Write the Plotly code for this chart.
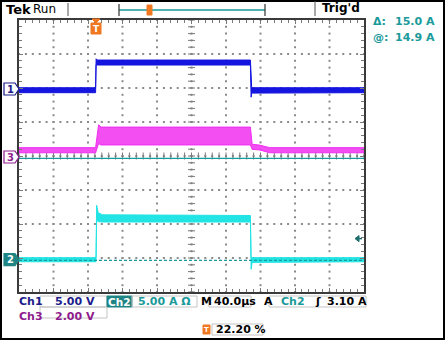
import numpy as np
import plotly.graph_objects as go

# ---------------- data ----------------
# time in µs relative to trigger; 40 µs/div, 10 div, trigger at 22.20 %
time_per_div = 40.0
trig_pct = 22.20
t_left = -trig_pct / 100 * 10 * time_per_div
t_right = t_left + 10 * time_per_div

# Ch1 (V): 5.00 V/div, ground marker position in divisions
ch1_scale, ch1_pos = 5.0, 1.97
ch1_t = [t_left, 0.0, 0.6, 2.0, 179.5, 180.3, 181.0, 183.0, t_right]
ch1_hi = [0.19, 0.19, 4.45, 4.26, 4.26, 0.19, 0.19, 0.19, 0.19]
ch1_lo = [-0.54, -0.54, 3.6, 3.53, 3.53, -1.2, -0.6, -0.54, -0.54]

# Ch3 (V): 2.00 V/div
ch3_scale, ch3_pos = 2.0, -0.03
ch3_t = [t_left, 0.0, 3.5, 6.0, 179.5, 181.5, 190.0, 202.0, t_right]
ch3_hi = [0.55, 0.55, 1.9, 1.76, 1.76, 0.75, 0.7, 0.55, 0.55]
ch3_lo = [0.25, 0.25, 0.8, 0.71, 0.71, 0.45, 0.42, 0.25, 0.25]

# Ch2 (A): 5.00 A/div
ch2_scale, ch2_pos = 5.0, -3.05
ch2_t = [t_left, 0.5, 1.2, 3.0, 8.0, 179.5, 180.3, 181.5, 184.0, t_right]
ch2_hi = [0.3, 0.3, 8.0, 6.9, 6.6, 6.5, 0.3, 0.3, 0.3, 0.3]
ch2_lo = [-0.3, -0.3, 5.8, 5.6, 5.54, 5.54, -1.4, -0.4, -0.3, -0.3]

# cursors (Ch2 units) and trigger level
cursor_at = 14.9
cursor_delta = 15.0
trig_level = 3.10

# readout texts
readout_ch1 = "5.00 V"
readout_ch2 = "5.00 A Ω"
readout_ch3 = "2.00 V"
readout_time = "40.0µs"
readout_trig = "3.10 A"
readout_pos = "22.20 %"

# ---------------- colours ----------------
C_BLUE = "#1515e0"
C_MAG = "#f02cf0"
C_CYAN = "#22e4e4"
C_TEAL = "#1a9a9a"
C_TEALBOX = "#1f8484"
C_NAVY = "#1c1c8c"
C_PURP = "#8e1c8e"
C_ORANGE = "#f07820"
C_GRID = "#8a8a8a"
FONT = "DejaVu Sans"

W, H = 445, 342
gx0, gx1, gy0, gy1 = 19, 364, 20, 292  # graticule in pixels

fig = go.Figure()

# invisible trace to instantiate the screen axis
fig.add_trace(go.Scatter(x=[0], y=[0], mode="markers", marker=dict(opacity=0),
                         xaxis="x", yaxis="y", hoverinfo="skip"))

# graticule dots
gx_minor = np.arange(0, 51) * time_per_div / 5 + t_left
gy_minor = np.arange(0, 41) * 0.2 - 4
dots_x, dots_y = [], []
for k in range(1, 8):
    dots_x += list(gx_minor); dots_y += [k - 4] * len(gx_minor)
for k in range(1, 10):
    xv = t_left + k * time_per_div
    dots_x += [xv] * len(gy_minor); dots_y += list(gy_minor)
fig.add_trace(go.Scatter(x=dots_x, y=dots_y, mode="markers", xaxis="x2", yaxis="y2",
                         marker=dict(symbol="square", size=2, color=C_GRID, line=dict(width=0)),
                         hoverinfo="skip"))
# center cross ticks
t_mid = t_left + 5 * time_per_div
fig.add_trace(go.Scatter(x=list(gx_minor), y=[0] * len(gx_minor), mode="markers", xaxis="x2", yaxis="y2",
                         marker=dict(symbol="line-ns", size=5, line=dict(width=1, color="#7a7a7a")),
                         hoverinfo="skip"))
fig.add_trace(go.Scatter(x=[t_mid] * len(gy_minor), y=list(gy_minor), mode="markers", xaxis="x2", yaxis="y2",
                         marker=dict(symbol="line-ew", size=5, line=dict(width=1, color="#7a7a7a")),
                         hoverinfo="skip"))


def band(t, hi, lo, scale, pos, color, fillcolor):
    xs = list(t) + list(t)[::-1] + [t[0]]
    ys = [v / scale + pos for v in hi] + [v / scale + pos for v in lo][::-1] + [hi[0] / scale + pos]
    fig.add_trace(go.Scatter(x=xs, y=ys, mode="lines", fill="toself", fillcolor=fillcolor,
                             line=dict(color=color, width=1), xaxis="x2", yaxis="y2", hoverinfo="skip"))


band(ch1_t, ch1_hi, ch1_lo, ch1_scale, ch1_pos, C_BLUE, C_BLUE)
band(ch3_t, ch3_hi, ch3_lo, ch3_scale, ch3_pos, C_MAG, "#f24ef2")
band(ch2_t, ch2_hi, ch2_lo, ch2_scale, ch2_pos, C_CYAN, C_CYAN)

# cursors
c1 = cursor_at / ch2_scale + ch2_pos
c2 = (cursor_at - cursor_delta) / ch2_scale + ch2_pos
fig.add_trace(go.Scatter(x=[t_left, t_right], y=[c1, c1], mode="lines", xaxis="x2", yaxis="y2",
                         line=dict(color=C_TEAL, width=1.2), hoverinfo="skip"))
fig.add_trace(go.Scatter(x=[t_left, t_right], y=[c2, c2], mode="lines", xaxis="x2", yaxis="y2",
                         line=dict(color=C_TEAL, width=1.2, dash="3px,2px"), hoverinfo="skip"))

shapes = []
ann = []


def text(x, y, s, color="black", size=11, bold=True, xanchor="left", yref="y", family=FONT):
    ann.append(dict(x=x, y=y, xref="x", yref=yref, text=("<b>%s</b>" % s) if bold else s,
                    showarrow=False, xanchor=xanchor, yanchor="middle",
                    font=dict(family=family, size=size, color=color)))


def rect(x0, y0, x1, y1, line="#c4c4c4", fill=None, lw=1):
    shapes.append(dict(type="rect", xref="x", yref="y", x0=x0, y0=y0, x1=x1, y1=y1,
                       line=dict(color=line, width=lw), fillcolor=fill, layer="above"))


def line(x0, y0, x1, y1, color, lw=1):
    shapes.append(dict(type="line", xref="x", yref="y", x0=x0, y0=y0, x1=x1, y1=y1,
                       line=dict(color=color, width=lw), layer="above"))


# outer frame
rect(1, 1, 444, 339, line="black", lw=2)

# top bar
text(4, 9, "Tek", size=13)
text(31, 9, "Run", size=12, bold=False)
line(68, 3, 68, 16, "#555555")
line(315, 1, 315, 16, "#555555")
text(320, 8, "Trig'd", size=12)
line(119, 10, 265, 10, C_TEAL, 1.5)
line(119, 4, 119, 16, "#333333", 1.2)
line(265, 4, 265, 16, "#333333", 1.2)
rect(147, 5, 152, 15, line=C_ORANGE, fill=C_ORANGE)

# trigger marker at top of graticule
shapes.append(dict(type="path", xref="x", yref="y", path="M92,19 L100,19 L96,23 Z",
                   fillcolor=C_ORANGE, line=dict(color=C_ORANGE, width=1), layer="above"))
rect(91, 23, 101, 34, line=C_ORANGE, fill=C_ORANGE)
text(96, 29, "T", color="white", size=9, xanchor="center")

# cursor readouts
text(371, 21, "Δ:", color=C_TEAL, size=11)
text(437, 21, "15.0 A", color=C_TEAL, size=11, xanchor="right")
text(371, 37, "@:", color=C_TEAL, size=11)
text(437, 37, "14.9 A", color=C_TEAL, size=11, xanchor="right")


# channel ground markers (vertical position from channel offsets)
def marker(pos, label, border, fill, tcolor):
    h = 6 / 34.0
    shapes.append(dict(type="path", xref="x", yref="y2",
                       path="M4,%f L15,%f L19,%f L15,%f L4,%f Z" % (pos + h, pos + h, pos, pos - h, pos - h),
                       fillcolor=fill, line=dict(color=border, width=1.2), layer="above"))
    ann.append(dict(x=10, y=pos, xref="x", yref="y2", text="<b>%s</b>" % label, showarrow=False,
                    xanchor="center", yanchor="middle", font=dict(family=FONT, size=10, color=tcolor)))


marker(ch1_pos, "1", C_NAVY, "white", C_NAVY)
marker(ch3_pos, "3", C_PURP, "white", C_PURP)
marker(ch2_pos, "2", C_TEALBOX, C_TEALBOX, "white")

# trigger level arrow (right side)
tl = trig_level / ch2_scale + ch2_pos
shapes.append(dict(type="path", xref="x", yref="y2",
                   path="M355,%f L359,%f L359,%f Z" % (tl, tl + 0.09, tl - 0.09),
                   fillcolor="#1f6f6f", line=dict(color="#1f6f6f", width=1), layer="above"))
shapes.append(dict(type="line", xref="x", yref="y2", x0=357, x1=362, y0=tl, y1=tl,
                   line=dict(color="#1f6f6f", width=1.5), layer="above"))

# bottom readouts
rect(40, 296, 107, 307)
text(17, 301.5, "Ch1", color=C_NAVY)
text(53, 301.5, readout_ch1, color=C_NAVY)
rect(107, 296, 132, 307, line=C_TEALBOX, fill=C_TEALBOX)
text(119.5, 301.5, "Ch2", color="white", size=10.5, xanchor="center")
rect(132, 296, 197, 307)
text(136, 301.5, readout_ch2, color=C_TEAL)
text(199, 301.5, "M", color="black")
rect(209, 296, 251, 307)
text(212, 301.5, readout_time, color="black")
text(262, 301.5, "A", color="black")
rect(269, 296, 366, 307)
text(279, 301.5, "Ch2", color=C_TEAL)
text(313, 301.5, "ʃ", color="black")
text(325, 301.5, readout_trig, color="black")

rect(40, 307, 107, 318)
text(17, 316, "Ch3", color=C_PURP)
text(53, 316, readout_ch3, color=C_PURP)

rect(203, 325, 210, 334, line=C_ORANGE, fill=C_ORANGE)
text(206.5, 329.5, "T", color="white", size=7, xanchor="center")
rect(212, 324, 263, 335)
text(214, 329.5, readout_pos, color="black")

axis_common = dict(showgrid=False, zeroline=False, showticklabels=False, fixedrange=True)
fig.update_layout(
    width=W, height=H, margin=dict(l=0, r=0, t=0, b=0),
    paper_bgcolor="white", plot_bgcolor="white", showlegend=False,
    xaxis=dict(range=[0, W], domain=[0, 1], visible=False, fixedrange=True),
    yaxis=dict(range=[H, 0], domain=[0, 1], visible=False, fixedrange=True),
    xaxis2=dict(anchor="y2", domain=[gx0 / W, gx1 / W], range=[t_left, t_right],
                showline=True, linecolor="#3a3a3a", linewidth=1.5, mirror="ticks",
                ticks="inside", ticklen=4, tickcolor="#7a7a7a", tick0=t_left, dtick=time_per_div,
                minor=dict(ticks="inside", ticklen=3, tickcolor="#7a7a7a", tick0=t_left, dtick=time_per_div / 5),
                **axis_common),
    yaxis2=dict(anchor="x2", domain=[1 - gy1 / H, 1 - gy0 / H], range=[-4, 4],
                showline=True, linecolor="#3a3a3a", linewidth=1.5, mirror="ticks",
                ticks="inside", ticklen=4, tickcolor="#7a7a7a", tick0=-4, dtick=1,
                minor=dict(ticks="inside", ticklen=3, tickcolor="#7a7a7a", tick0=-4, dtick=0.2),
                **axis_common),
    shapes=shapes, annotations=ann,
)

fig.write_html("out.html")
